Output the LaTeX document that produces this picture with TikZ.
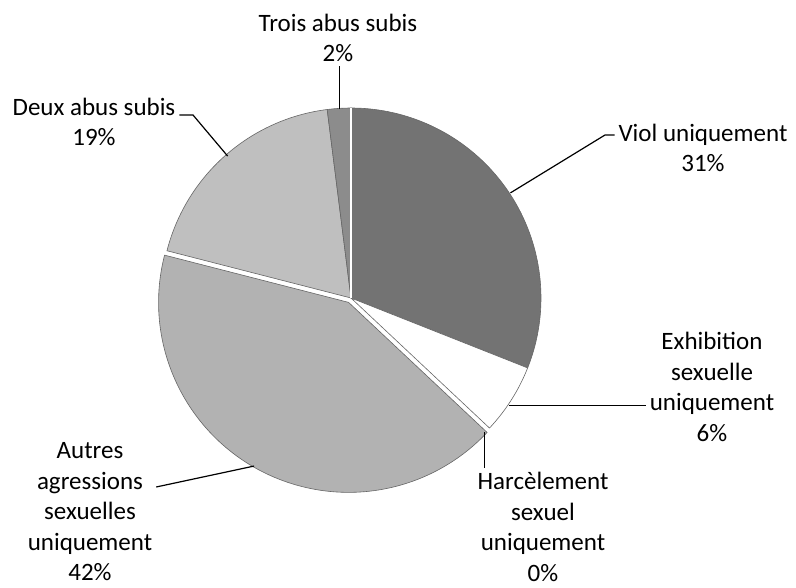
\documentclass[tikz,border=0pt]{standalone}
\usepackage{fontspec}
\setmainfont{Carlito}
\usetikzlibrary{calc}

\begin{document}
\begin{tikzpicture}[x=1pt, y=1pt,
    label/.style={align=center, inner sep=0pt, outer sep=4pt,
      font=\fontsize{25}{30.5}\selectfont},
    slice/.style={draw=black!60, line width=0.6pt},
    leader/.style={draw=black, line width=1.2pt}]
  \useasboundingbox (0,0) rectangle (796,587);
  \coordinate (c) at (351,289);

  % slices, clockwise from the top
  \path[slice, fill=black!55] (c) -- ++(-21.6:190) arc (-21.6:90:190) -- cycle;
  \path[slice, fill=white] (c) -- ++(-43.2:190) arc (-43.2:-21.6:190) -- cycle;
  \path[slice, fill=black!30] ($(c)+(-118.8:5)$) coordinate (c2)
    -- ++(-194.4:190) arc (-194.4:-43.2:190) -- cycle;
  \path[slice, fill=black!25] (c) -- ++(97.2:190) arc (97.2:165.6:190) -- cycle;
  \path[slice, fill=black!45] (c) -- ++(90:190) arc (90:97.2:190) -- cycle;
  \draw[white, line width=1.2pt] (c) -- ++(90:190);

  % points on the rim
  \coordinate (pViol) at ($(c)+(33.4:191)$);
  \coordinate (pExhib) at ($(c)+(-34.2:191)$);
  \coordinate (pHarc) at ($(c)+(-45.2:189)$);
  \coordinate (pAutres) at ($(c2)+(-120:189)$);
  \coordinate (pDeux) at ($(c)+(131:188)$);
  \coordinate (pTrois) at ($(c)+(93.6:189)$);

  % labels
  \node[label] (trois) at (338,549) {Trois abus subis\\2\%};
  \node[label] (deux) at (94,465) {Deux abus subis\\19\%};
  \node[label] (viol) at (703,439) {Viol uniquement\\31\%};
  \node[label] (exhib) at (712,200) {Exhibition\\sexuelle\\uniquement\\6\%};
  \node[label] (harc) at (543,60) {Harcèlement\\sexuel\\uniquement\\0\%};
  \node[label] (autres) at (90,75) {Autres\\agressions\\sexuelles\\uniquement\\42\%};

  % leaders
  \coordinate (kDeux) at (193,472);
  \coordinate (kViol) at (605,452);
  \coordinate (kAutres) at (150,100);
  \draw[leader] (pTrois) -- (pTrois |- trois.south);
  \draw[leader] (pDeux) -- (kDeux) -- (kDeux -| deux.east);
  \draw[leader] (pViol) -- (kViol) -- (kViol -| viol.west);
  \draw[leader] (pExhib) -- (pExhib -| exhib.west);
  \draw[leader] (pHarc) -- (pHarc |- harc.north);
  \draw[leader] (pAutres) -- (kAutres -| autres.east);
\end{tikzpicture}
\end{document}
